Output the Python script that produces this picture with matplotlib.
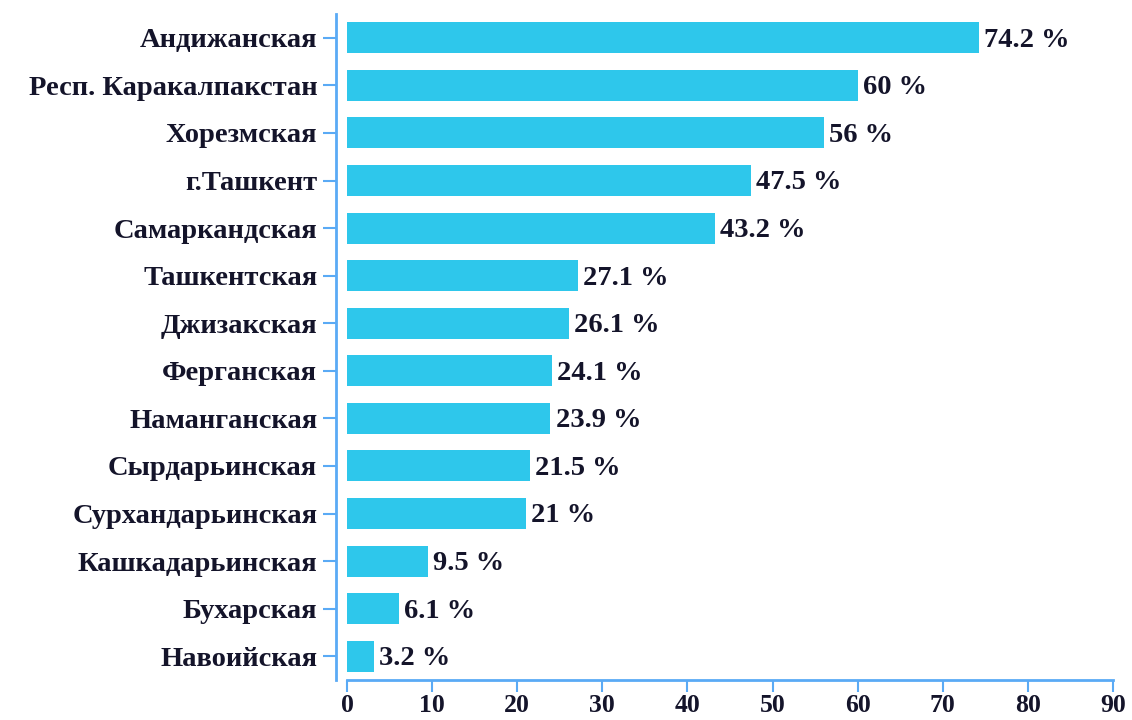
import matplotlib
matplotlib.use('Agg')
import matplotlib.pyplot as plt

regions = ['Андижанская', 'Респ. Каракалпакстан', 'Хорезмская', 'г.Ташкент',
           'Самаркандская', 'Ташкентская', 'Джизакская', 'Ферганская',
           'Наманганская', 'Сырдарьинская', 'Сурхандарьинская',
           'Кашкадарьинская', 'Бухарская', 'Навоийская']
values = [74.2, 60, 56, 47.5, 43.2, 27.1, 26.1, 24.1, 23.9, 21.5, 21, 9.5, 6.1, 3.2]
labels = ['74.2 %', '60 %', '56 %', '47.5 %', '43.2 %', '27.1 %', '26.1 %',
          '24.1 %', '23.9 %', '21.5 %', '21 %', '9.5 %', '6.1 %', '3.2 %']
xticks = [0, 10, 20, 30, 40, 50, 60, 70, 80, 90]

bar_color = '#2ec7eb'
axis_color = '#5aaaf5'
text_color = '#14142a'

plt.rcParams['font.family'] = ['Liberation Serif', 'DejaVu Serif']
plt.rcParams['font.weight'] = 'bold'

fig = plt.figure(figsize=(11.32, 7.2), dpi=100)
ax = fig.add_axes([347 / 1132, 1 - 680 / 720, (1113 - 347) / 1132, (680 - 14) / 720])

pos = list(range(len(regions)))
ax.barh(pos, values, height=0.65, color=bar_color)
for p, v, t in zip(pos, values, labels):
    # small nudge down so the glyphs sit centred on the bar
    ax.text(v + 0.6, p + 0.05, t, va='center', ha='left', fontsize=20.5,
            fontweight='bold', color=text_color)

ax.set_xlim(0, 90)
ax.set_ylim(len(regions) - 0.5, -0.5)
ax.set_yticks(pos)
ax.set_yticklabels(regions)
ax.set_xticks(xticks)

for s in ['top', 'right']:
    ax.spines[s].set_visible(False)
for s in ['left', 'bottom']:
    ax.spines[s].set_color(axis_color)
    ax.spines[s].set_linewidth(2)
ax.spines['left'].set_position(('outward', 8))

ax.tick_params(axis='y', colors=axis_color, length=9.5, width=1.5, pad=4,
               labelsize=20.5, labelcolor=text_color)
ax.tick_params(axis='x', colors=axis_color, length=8.5, width=1.5, pad=1.5,
               labelsize=18.5, labelcolor=text_color)

fig.savefig('out.png', dpi=100)
